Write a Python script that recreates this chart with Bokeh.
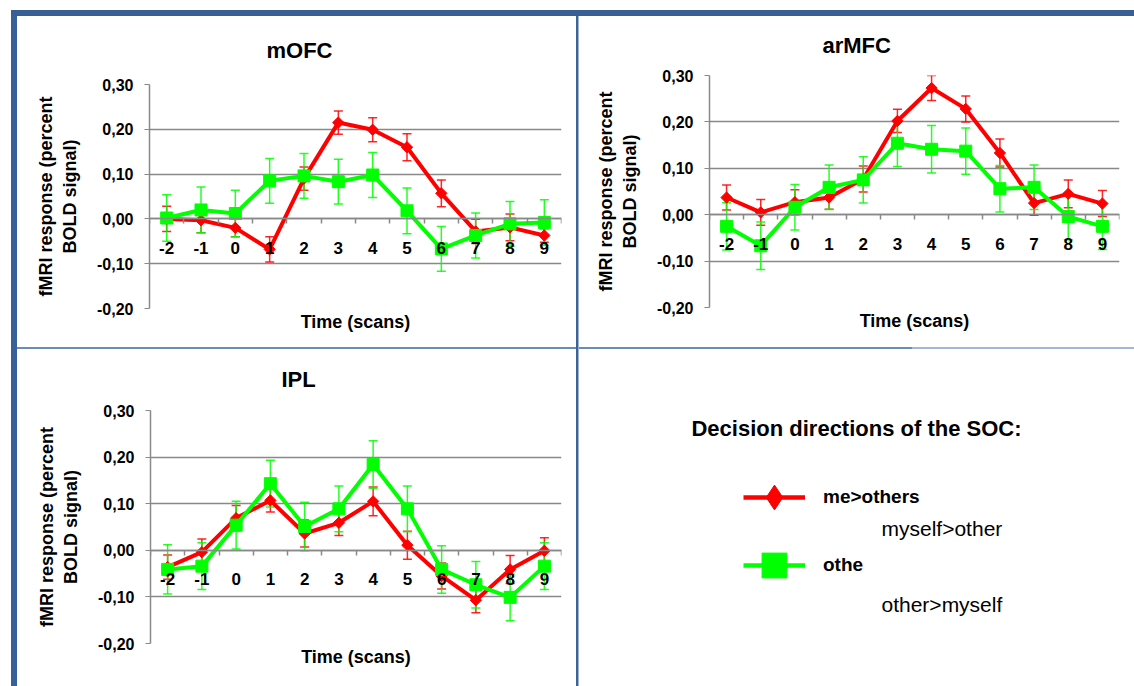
import math
from bokeh.plotting import figure
from bokeh.models import (Range1d, LinearAxis, FixedTicker, CustomJSTickFormatter, Whisker, TeeHead,
                          ColumnDataSource, Label, Legend, LegendItem, Div, Spacer)
from bokeh.layouts import row, column
from bokeh.embed import file_html
from bokeh.resources import INLINE

# ---------------- data ----------------
scans = [-2, -1, 0, 1, 2, 3, 4, 5, 6, 7, 8, 9]
scan_labels = ["-2", "-1", "0", "1", "2", "3", "4", "5", "6", "7", "8", "9"]
y_ticks = [-0.2, -0.1, 0.0, 0.1, 0.2, 0.3]
y_tick_labels = ["-0,20", "-0,10", "0,00", "0,10", "0,20", "0,30"]

series_names = ["me>others", "othe"]
note_labels = ["myself>other", "other>myself"]

mofc_me = [0.000, -0.003, -0.020, -0.068, 0.090, 0.215, 0.199, 0.160, 0.057, -0.028, -0.019, -0.037]
mofc_me_err = [0.028, 0.028, 0.020, 0.028, 0.026, 0.026, 0.027, 0.030, 0.030, 0.027, 0.030, 0.015]
mofc_oth = [0.002, 0.020, 0.012, 0.085, 0.096, 0.083, 0.098, 0.018, -0.067, -0.037, -0.011, -0.008]
mofc_oth_err = [0.052, 0.051, 0.052, 0.050, 0.050, 0.050, 0.050, 0.051, 0.050, 0.050, 0.050, 0.051]

armfc_me = [0.037, 0.005, 0.027, 0.037, 0.077, 0.202, 0.273, 0.228, 0.133, 0.025, 0.045, 0.024]
armfc_me_err = [0.027, 0.028, 0.027, 0.025, 0.028, 0.025, 0.027, 0.028, 0.030, 0.026, 0.030, 0.028]
armfc_oth = [-0.025, -0.067, 0.016, 0.059, 0.075, 0.154, 0.141, 0.137, 0.056, 0.059, -0.004, -0.025]
armfc_oth_err = [0.051, 0.051, 0.049, 0.048, 0.050, 0.050, 0.051, 0.050, 0.050, 0.048, 0.050, 0.050]

ipl_me = [-0.036, -0.004, 0.069, 0.107, 0.036, 0.059, 0.105, 0.011, -0.055, -0.107, -0.041, -0.001]
ipl_me_err = [0.026, 0.028, 0.027, 0.025, 0.029, 0.027, 0.031, 0.030, 0.028, 0.027, 0.030, 0.028]
ipl_oth = [-0.041, -0.034, 0.054, 0.143, 0.051, 0.089, 0.184, 0.089, -0.041, -0.074, -0.101, -0.034]
ipl_oth_err = [0.053, 0.050, 0.051, 0.050, 0.052, 0.049, 0.051, 0.049, 0.051, 0.050, 0.050, 0.050]

# ---------------- style ----------------
RED = "#ff0000"
GREEN = "#00ff00"
GRID = "#898989"
FONT = "Liberation Sans"
TOPBLUE = "#365f96"
LEFTBLUE = "#38619a"
HLINE = "#6b8cb4"
HLIGHT = "#a3b7d3"

LOOKUP = "const i = tv.indexOf(tick); return i < 0 ? '' : tl[i];"


def add_series(p, vals, errs, color):
    src = ColumnDataSource(dict(x=scans, y=vals,
                                lo=[v - e for v, e in zip(vals, errs)],
                                hi=[v + e for v, e in zip(vals, errs)]))
    p.add_layout(Whisker(source=src, base="x", upper="hi", lower="lo",
                         line_color=color, line_width=1.5, line_alpha=0.85,
                         upper_head=TeeHead(size=9, line_color=color, line_width=1.5, line_alpha=0.85),
                         lower_head=TeeHead(size=9, line_color=color, line_width=1.5, line_alpha=0.85)))
    return src


def make_panel(name, me, me_err, oth, oth_err, w, h, mbl, mbr, mbt, mbb, toff, tstand):
    p = figure(width=w, height=h, x_range=Range1d(-2.5, 9.5), y_range=Range1d(-0.2, 0.3),
               output_backend="svg", toolbar_location=None, x_axis_location=None,
               min_border_left=mbl, min_border_right=mbr, min_border_top=mbt, min_border_bottom=mbb,
               background_fill_color="white", border_fill_color="white",
               outline_line_color=None, margin=0)
    p.xgrid.visible = False

    p.title.text = name
    p.title.align = "left"
    p.title.offset = toff
    p.title.standoff = tstand
    p.title.vertical_align = "top"
    p.title.text_font = FONT
    p.title.text_font_style = "bold"
    p.title.text_font_size = "22px"
    p.title.text_color = "black"

    yax = p.yaxis[0]
    yax.ticker = FixedTicker(ticks=y_ticks)
    yax.formatter = CustomJSTickFormatter(args=dict(tv=y_ticks, tl=y_tick_labels), code=LOOKUP)
    yax.major_label_text_font = FONT
    yax.major_label_text_font_style = "bold"
    yax.major_label_text_font_size = "16px"
    yax.major_label_text_color = "black"
    yax.major_label_standoff = 11
    yax.major_tick_out = 5
    yax.major_tick_in = 0
    yax.minor_tick_out = 0
    yax.minor_tick_in = 0
    yax.major_tick_line_color = GRID
    yax.axis_line_color = GRID
    yax.axis_line_width = 1.5
    yax.axis_label = "fMRI response (percent\nBOLD signal)"
    yax.axis_label_text_font = FONT
    yax.axis_label_text_font_style = "bold"
    yax.axis_label_text_font_size = "18px"
    yax.axis_label_text_color = "black"
    yax.axis_label_standoff = 14

    p.ygrid.ticker = FixedTicker(ticks=y_ticks)
    p.ygrid.grid_line_color = GRID
    p.ygrid.grid_line_width = 1.5

    bounds = [s - 0.5 for s in scans] + [scans[-1] + 0.5]

    title_axis = LinearAxis(ticker=FixedTicker(ticks=[]), axis_label="Time (scans)",
                            axis_line_color=None, major_tick_out=0, major_tick_in=0,
                            minor_tick_out=0, minor_tick_in=0, axis_label_standoff=3,
                            axis_label_text_font=FONT, axis_label_text_font_style="bold",
                            axis_label_text_font_size="18px", axis_label_text_color="black")
    p.add_layout(title_axis, "below")

    zero_axis = LinearAxis(fixed_location=0,
                           ticker=FixedTicker(ticks=scans, minor_ticks=bounds),
                           formatter=CustomJSTickFormatter(args=dict(tv=scans, tl=scan_labels), code=LOOKUP),
                           major_tick_out=0, major_tick_in=0, minor_tick_out=5, minor_tick_in=0,
                           axis_line_color=GRID, axis_line_width=1.5,
                           minor_tick_line_color=GRID, minor_tick_line_width=1.5,
                           major_label_standoff=18, major_label_text_font=FONT,
                           major_label_text_font_style="bold", major_label_text_font_size="17px",
                           major_label_text_color="black")
    p.add_layout(zero_axis, "below")

    s_me = add_series(p, me, me_err, RED)
    s_oth = add_series(p, oth, oth_err, GREEN)
    p.line("x", "y", source=s_me, line_color=RED, line_width=4)
    p.scatter("x", "y", source=s_me, marker="square", angle=math.pi / 4, size=8,
              fill_color=RED, line_color=RED)
    p.line("x", "y", source=s_oth, line_color=GREEN, line_width=4)
    p.scatter("x", "y", source=s_oth, marker="square", size=12, fill_color=GREEN, line_color=GREEN)
    return p


pA = make_panel("mOFC", mofc_me, mofc_me_err, mofc_oth, mofc_oth_err,
                559, 331, 132, 15, 68, 39, 117, 40)
pB = make_panel("arMFC", armfc_me, armfc_me_err, armfc_oth, armfc_oth_err,
                555, 331, 130, 15, 59, 40, 113, 31)
pC = make_panel("IPL", ipl_me, ipl_me_err, ipl_oth, ipl_oth_err,
                559, 337, 133, 15, 61, 43, 131, 33)

# ---------------- legend panel ----------------
pD = figure(width=555, height=337, x_range=Range1d(0, 1), y_range=Range1d(0, 1),
            output_backend="svg", toolbar_location=None, x_axis_location=None,
            y_axis_location=None, min_border_left=0, min_border_right=0,
            min_border_top=61, min_border_bottom=43, outline_line_color=None,
            background_fill_color="white", border_fill_color="white", margin=0)
pD.grid.visible = False
r1 = pD.line(scans, mofc_me, line_color=RED, line_width=4.5, visible=False)
r2 = pD.scatter(scans, mofc_me, marker="diamond", fill_color=RED, line_color=RED, visible=False)
g1 = pD.line(scans, mofc_oth, line_color=GREEN, line_width=4.5, visible=False)
g2 = pD.scatter(scans, mofc_oth, marker="square", fill_color=GREEN, line_color=GREEN,
                visible=False)
legend = Legend(items=[LegendItem(label=series_names[0], renderers=[r1, r2]),
                       LegendItem(label=series_names[1], renderers=[g1, g2])],
                location=(164, 47), orientation="vertical", glyph_width=62, glyph_height=62,
                spacing=6, padding=0, margin=0, label_standoff=18,
                border_line_color=None, background_fill_alpha=0,
                label_text_font=FONT, label_text_font_style="bold",
                label_text_font_size="19px", label_text_color="black")
pD.add_layout(legend)
pD.add_layout(Label(x=277, y=215, x_units="screen", y_units="screen",
                    text="Decision directions of the SOC:", text_align="center",
                    text_baseline="middle", text_font=FONT, text_font_style="bold",
                    text_font_size="22px", text_color="black"))
pD.add_layout(Label(x=302, y=115, x_units="screen", y_units="screen", text=note_labels[0],
                    text_align="left", text_baseline="middle", text_font=FONT,
                    text_font_size="21px", text_color="black"))
pD.add_layout(Label(x=302, y=39, x_units="screen", y_units="screen", text=note_labels[1],
                    text_align="left", text_baseline="middle", text_font=FONT,
                    text_font_size="21px", text_color="black"))


# ---------------- frame lines ----------------
def bar(w, h, color):
    return Div(text="", width=w, height=h, margin=0, styles={"background-color": color})


def vdiv(h):
    return Div(text="", width=3, height=h, margin=0,
               styles={"background": "linear-gradient(to right, #3d6397 0px, #3d6397 2px, #9fb3d0 2px)"})


def sp(w, h):
    return Spacer(width=w, height=h, margin=0)


layout = column(
    sp(1134, 10),
    row(sp(11, 6), bar(1123, 6, TOPBLUE), spacing=0),
    row(sp(11, 331), bar(6, 331, LEFTBLUE), column(pA, spacing=0), vdiv(331),
        column(pB, spacing=0), spacing=0),
    row(sp(11, 2), bar(6, 2, LEFTBLUE), bar(559, 2, HLINE), vdiv(2), bar(333, 2, HLINE),
        bar(222, 2, HLIGHT), spacing=0),
    row(sp(11, 337), bar(6, 337, LEFTBLUE), column(pC, spacing=0), vdiv(337),
        column(pD, spacing=0), spacing=0),
    spacing=0,
)

open("out.html", "w").write(file_html(layout, INLINE))
